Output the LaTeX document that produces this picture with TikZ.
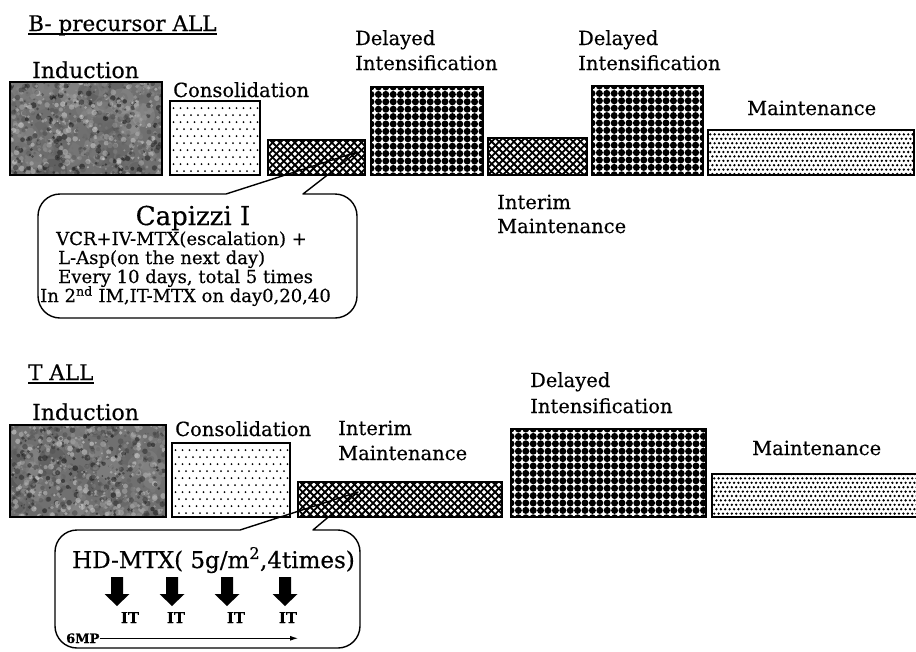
\documentclass[tikz,border=0pt]{standalone}
\usepackage{fontspec}
\setmainfont{DejaVu Serif}[FakeBold=0.45]
\usetikzlibrary{arrows.meta}

\newcommand\fs[1]{\fontsize{#1}{#1}\selectfont}

% dot lattice inside a rectangle: x1,y1,x2,y2,spacing,radius,stagger(0/1)
\newcommand\dotpattern[7]{%
  \begin{scope}
    \clip (#1,#2) rectangle (#3,#4);
    \pgfmathtruncatemacro\nx{(#3-#1)/#5+1}%
    \pgfmathtruncatemacro\ny{(#4-#2)/#5+1}%
    \foreach \i in {0,...,\nx}{\foreach \j in {0,...,\ny}{%
      \pgfmathsetmacro\sx{#1+\i*#5+#7*mod(\j,2)*#5/2}%
      \pgfmathsetmacro\sy{#2+\j*#5}%
      \fill (\sx,\sy) circle[radius=#6];}}
  \end{scope}}
% diagonal cross hatching inside a rectangle: x1,y1,x2,y2,spacing,line width
\newcommand\hatchpattern[6]{%
  \begin{scope}
    \clip (#1,#2) rectangle (#3,#4);
    \pgfmathsetmacro\hh{#4-#2}%
    \pgfmathtruncatemacro\nk{(#3-#1+\hh)/#5+1}%
    \foreach \k in {0,...,\nk}{%
      \pgfmathsetmacro\sx{#1-\hh+\k*#5}%
      \draw[line width=#6pt] (\sx,#2) -- ++(\hh,\hh);
      \pgfmathsetmacro\tx{#1+\k*#5}%
      \draw[line width=#6pt] (\tx,#2) -- ++(-\hh,\hh);}
  \end{scope}}
% mottled grey texture inside a rectangle: x1,y1,x2,y2,seed
\newcommand\mottledpattern[5]{%
  \begin{scope}
    \clip (#1,#2) rectangle (#3,#4);
    \fill[black!56] (#1,#2) rectangle (#3,#4);
    \pgfmathsetseed{#5}%
    % soft large blotches
    \foreach \n in {1,...,60}{%
      \pgfmathsetmacro\sx{#1+rnd*(#3-#1)}%
      \pgfmathsetmacro\sy{#2+rnd*(#4-#2)}%
      \pgfmathsetmacro\rr{5+rnd*10}%
      \pgfmathtruncatemacro\gg{30+rnd*50}%
      \fill[black!\gg, opacity=0.3] (\sx,\sy) circle[radius=\rr];}
    % fine grain
    \foreach \n in {1,...,900}{%
      \pgfmathsetmacro\sx{#1+rnd*(#3-#1)}%
      \pgfmathsetmacro\sy{#2+rnd*(#4-#2)}%
      \pgfmathsetmacro\rr{0.8+rnd*2.2}%
      \pgfmathtruncatemacro\gg{15+rnd*80}%
      \fill[black!\gg, opacity=0.55] (\sx,\sy) circle[radius=\rr];}
  \end{scope}}
% rounded callout with a wedge: L,T,R,B,radius,wedge left x,wedge right x,tip
\newcommand\callout[8]{%
  \draw[line width=1.4pt, line join=round] (#6,#2) -- (#8) -- (#7,#2) -- ({#3-#5},#2)
    arc[start angle=270,end angle=360,radius=#5] -- (#3,{#4-#5})
    arc[start angle=0,end angle=90,radius=#5] -- ({#1+#5},#4)
    arc[start angle=90,end angle=180,radius=#5] -- (#1,{#2+#5})
    arc[start angle=180,end angle=270,radius=#5] -- cycle;
}
% the pattern for each kind of phase
\newcommand\induction[5]{\mottledpattern{#1}{#2}{#3}{#4}{#5}}
\newcommand\consolidation[4]{\dotpattern{#1}{#2}{#3}{#4}{7}{1.0}{1}}
\newcommand\interim[4]{\hatchpattern{#1}{#2}{#3}{#4}{7.4}{1.8}}
\newcommand\delayed[4]{\dotpattern{#1}{#2}{#3}{#4}{7.4}{3.5}{0}}
\newcommand\maintenance[4]{\dotpattern{#1}{#2}{#3}{#4}{4.4}{1.3}{1}}

\begin{document}
\begin{tikzpicture}[x=1pt,y=-1pt,
  phase/.style={draw, line width=1.6pt, inner sep=0pt, outer sep=0pt, anchor=north west},
  lbl/.style={anchor=base west, inner sep=0pt, font=\fs{19.5}},
  big/.style={anchor=base west, inner sep=0pt, font=\fs{22}},
  ttl/.style={anchor=base west, inner sep=0pt, font=\fs{21.5}},
  ctext/.style={anchor=base west, inner sep=0pt, font=\fs{18}, text height=12pt, text depth=3pt},
  itlbl/.style={anchor=base, inner sep=0pt, font=\fs{15}\bfseries},
  blockarrow/.style={fill=black}
]
\useasboundingbox (0,0) rectangle (916,651);
\fill[white] (0,0) rectangle (916,651);

% ---------------- B-precursor ALL ----------------
\node[ttl] (ttlA) at (28,31) {B- precursor ALL};
\draw[line width=1.2pt] ([yshift=-3pt]ttlA.base west) -- ([yshift=-3pt]ttlA.base east);

\induction{10}{82}{162}{175}{11}
\consolidation{170}{101}{260}{175}
\interim{268}{140}{365}{175}
\delayed{371}{87}{483}{175}
\interim{488}{138}{587}{175}
\delayed{592}{86}{703}{175}
\maintenance{708}{130}{914}{175}

\node[phase, minimum width=152pt, minimum height=93pt] (indA) at (10,82) {};
\node[phase, minimum width=90pt, minimum height=74pt] (consA) at (170,101) {};
\node[phase, minimum width=97pt, minimum height=35pt] (imA) at (268,140) {};
\node[phase, minimum width=112pt, minimum height=88pt] (diA) at (371,87) {};
\node[phase, minimum width=99pt, minimum height=37pt] (imB) at (488,138) {};
\node[phase, minimum width=111pt, minimum height=89pt] (diB) at (592,86) {};
\node[phase, minimum width=206pt, minimum height=45pt] (mainA) at (708,130) {};

\node[big] (lIndA) at (32,78) {Induction};
\node[lbl] (lConsA) at (173,97) {Consolidation};
\node[lbl] (lDiA1) at (355,45) {Delayed};
\node[lbl] (lDiA2) at (355,70) {Intensification};
\node[lbl] (lDiB1) at (578,45) {Delayed};
\node[lbl] (lDiB2) at (578,70) {Intensification};
\node[lbl] (lMainA) at (747,115) {Maintenance};
\node[lbl] (lImB1) at (497,209) {Interim};
\node[lbl] (lImB2) at (497,233) {Maintenance};

% Capizzi callout
\coordinate (tipA) at ([xshift=-8pt,yshift=-12pt]imA.north east);
\callout{38}{194}{357}{318}{22}{226}{303}{tipA}
\node[anchor=base, inner sep=0pt, font=\fs{26}] (capT) at (193,225) {Capizzi I};
\node[ctext] (capL1) at (56,245) {VCR+IV-MTX(escalation) +};
\node[ctext] (capL2) at (58,264) {L-Asp(on the next day)};
\node[ctext] (capL3) at (58,283) {Every 10 days, total 5 times};
\node[ctext] (capL4) at (40,302) {In 2\textsuperscript{nd} IM,IT-MTX on day0,20,40};

% ---------------- T ALL ----------------
\node[ttl] (ttlB) at (28,380) {T ALL};
\draw[line width=1.2pt] ([yshift=-3pt]ttlB.base west) -- ([yshift=-3pt]ttlB.base east);

\induction{10}{425}{166}{517}{23}
\consolidation{172}{443}{290}{517}
\interim{298}{482}{502}{517}
\delayed{511}{429}{706}{517}
\maintenance{712}{474}{932}{517}

\node[phase, minimum width=156pt, minimum height=92pt] (indB) at (10,425) {};
\node[phase, minimum width=118pt, minimum height=74pt] (consB) at (172,443) {};
\node[phase, minimum width=204pt, minimum height=35pt] (imC) at (298,482) {};
\node[phase, minimum width=195pt, minimum height=88pt] (diC) at (511,429) {};
\node[phase, minimum width=220pt, minimum height=43pt] (mainB) at (712,474) {};

\node[big] (lIndB) at (32,420) {Induction};
\node[lbl] (lConsB) at (175,436) {Consolidation};
\node[lbl] (lImC1) at (338,435) {Interim};
\node[lbl] (lImC2) at (338,460) {Maintenance};
\node[lbl] (lDiC1) at (530,387) {Delayed};
\node[lbl] (lDiC2) at (530,413) {Intensification};
\node[lbl] (lMainB) at (752,455) {Maintenance};

% HD-MTX callout
\coordinate (tipB) at ([xshift=60pt,yshift=-10pt]imC.north west);
\callout{55}{530}{360}{648}{22}{240}{313}{tipB}
\node[anchor=base west, inner sep=0pt, font=\fs{23}] (hdT) at (72,568) {HD-MTX( 5g/m\textsuperscript{2},4times)};
\foreach \ax in {117,172,227,285}{
  \fill[blockarrow] ({\ax-6},577) -- ({\ax+6},577) -- ({\ax+6},594) -- ({\ax+12.5},594)
    -- (\ax,606) -- ({\ax-12.5},594) -- ({\ax-6},594) -- cycle;
}
\node[itlbl] (it1) at (130,623) {IT};
\node[itlbl] (it2) at (176,623) {IT};
\node[itlbl] (it3) at (236,623) {IT};
\node[itlbl] (it4) at (288,623) {IT};
\node[anchor=base west, inner sep=0pt, font=\fs{13}\bfseries] (mp) at (66,643) {6MP};
\coordinate (mpEnd) at (298,638);
\draw[line width=1pt, -{Latex[length=8pt,width=5pt]}] (mp.east) -- (mp.east -| mpEnd);
\end{tikzpicture}
\end{document}
